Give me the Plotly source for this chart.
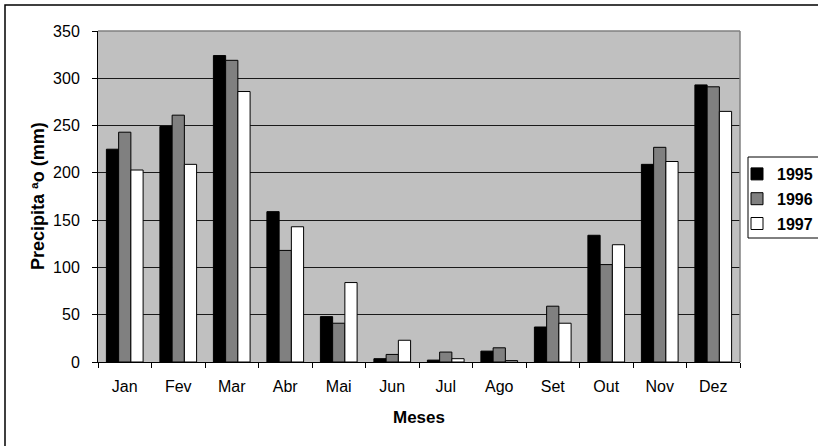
import plotly.graph_objects as go

months = ["Jan", "Fev", "Mar", "Abr", "Mai", "Jun", "Jul", "Ago", "Set", "Out", "Nov", "Dez"]
p1995 = [225, 249, 324, 159, 48, 3.5, 2, 11.5, 37, 134, 209, 293]
p1996 = [243, 261, 319, 118, 41, 8, 10.5, 15, 59, 103, 227, 291]
p1997 = [203, 209, 286, 143, 84, 23, 3.5, 1.5, 41, 124, 212, 265]
series_names = ["1995", "1996", "1997"]
series_colors = ["#000000", "#808080", "#FFFFFF"]

W, H = 818, 446
L, R, T, B = 98, 78, 31, 84
pw, ph = W - L - R, H - T - B

def px_x(x):
    return (x - L) / pw

def px_y(y):
    return (H - B - y) / ph

FONT = "Liberation Sans, Arial, sans-serif"

fig = go.Figure()
for i, (name, vals, col) in enumerate(zip(series_names, [p1995, p1996, p1997], series_colors)):
    fig.add_trace(go.Bar(
        x=months, y=vals, name=name,
        marker=dict(color=col, line=dict(color="#000000", width=1)),
        legendgroup=name,
    ))

fig.update_layout(
    width=W, height=H,
    margin=dict(l=L, r=R, t=T, b=B, pad=0, autoexpand=False),
    paper_bgcolor="#FFFFFF",
    plot_bgcolor="#C0C0C0",
    barmode="group",
    bargap=0.314,
    bargroupgap=0,
    font=dict(family=FONT, size=16, color="#000000"),
    showlegend=True,
    legend=dict(
        xref="container", yref="container",
        x=737 / W, y=1 - 157 / H, xanchor="left", yanchor="top",
        bgcolor="rgba(0,0,0,0)", borderwidth=0,
        font=dict(family=FONT, size=16, color="#000000", weight="bold"),
        tracegroupgap=1, itemwidth=30,
    ),
    xaxis=dict(
        type="category",
        showline=True, linecolor="#000000", linewidth=1,
        ticks="outside", ticklen=5, tickcolor="#000000", tickwidth=1,
        tickson="boundaries",
        showgrid=False,
        tickfont=dict(family=FONT, size=16),
        ticklabelstandoff=10,
        title=dict(text="Meses", font=dict(family=FONT, size=17, weight="bold"), standoff=16),
        fixedrange=True,
    ),
    yaxis=dict(
        range=[0, 350], dtick=50, tick0=0,
        showline=True, linecolor="#000000", linewidth=1,
        ticks="outside", ticklen=5, tickcolor="#000000", tickwidth=1,
        showgrid=True, gridcolor="#1a1a1a", gridwidth=1,
        zeroline=False,
        tickfont=dict(family=FONT, size=16),
        ticklabelstandoff=9,
        fixedrange=True,
    ),
    shapes=[
        # outer chart frame (extends beyond right/bottom edges)
        dict(type="rect", xref="paper", yref="paper",
             x0=px_x(5), x1=px_x(840), y0=px_y(470), y1=px_y(5),
             line=dict(color="#000000", width=1.5), fillcolor="rgba(0,0,0,0)", layer="below"),
        # legend box
        dict(type="rect", xref="paper", yref="paper",
             x0=px_x(748), x1=px_x(830), y0=px_y(238), y1=px_y(157),
             line=dict(color="#000000", width=1), fillcolor="#FFFFFF", layer="below"),
        # plot area top and right borders (gray)
        dict(type="line", xref="paper", yref="paper", x0=0, x1=1, y0=1, y1=1,
             line=dict(color="#808080", width=1.5), layer="above"),
        dict(type="line", xref="paper", yref="paper", x0=1, x1=1, y0=0, y1=1,
             line=dict(color="#808080", width=1.5), layer="above"),
    ],
    annotations=[
        dict(text="Precipita ªo (mm)", xref="paper", yref="paper",
             x=px_x(38), y=px_y(196), xanchor="center", yanchor="middle",
             textangle=-90, showarrow=False,
             font=dict(family=FONT, size=18, weight="bold", color="#000000")),
    ],
)

fig.write_html("out.html", config={"displayModeBar": False},
               post_script="document.body.style.margin='0';")
